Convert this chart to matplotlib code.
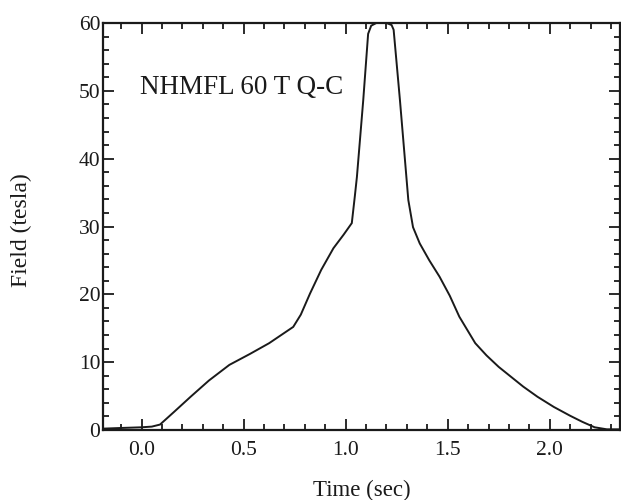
import matplotlib
matplotlib.use("Agg")
import matplotlib.pyplot as plt
import matplotlib.ticker as mticker

# Pulso de campo do magneto 60 T
time_s = [-0.19, -0.10, 0.00, 0.05, 0.09, 0.16, 0.24, 0.33, 0.43, 0.53, 0.625,
          0.743, 0.78, 0.825, 0.88, 0.94, 0.99, 1.03, 1.045, 1.055, 1.086, 1.11,
          1.125, 1.15, 1.20, 1.225, 1.235, 1.266, 1.307, 1.33, 1.363, 1.41,
          1.46, 1.51, 1.557, 1.635, 1.69, 1.75, 1.87, 1.94, 2.02, 2.10, 2.16,
          2.22, 2.28, 2.35]
field_t = [0.2, 0.3, 0.4, 0.5, 0.8, 2.7, 4.9, 7.3, 9.6, 11.2, 12.8,
           15.2, 17.0, 20.1, 23.6, 26.8, 28.8, 30.5, 34.5, 37.3, 48.6, 58.4,
           59.6, 60.0, 60.0, 59.7, 59.0, 48.6, 33.9, 29.9, 27.5, 25.0,
           22.6, 19.8, 16.7, 12.8, 11.0, 9.3, 6.4, 4.9, 3.4, 2.1, 1.2,
           0.4, 0.1, 0.1]

x_ticks = [0.0, 0.5, 1.0, 1.5, 2.0]
y_ticks = [0, 10, 20, 30, 40, 50, 60]

plt.rcParams['font.family'] = ['Liberation Serif', 'DejaVu Serif']

fig = plt.figure(figsize=(6.21, 5.0), dpi=100)
ax = fig.add_axes([0.1663, 0.14, 0.8313, 0.814])

ax.plot(time_s, field_t, color='#1a1a1a', lw=1.4, solid_joinstyle='miter')

ax.set_xlim(-0.188, 2.342)
ax.set_ylim(0, 60)
ax.set_xticks(x_ticks)
ax.set_xticklabels([f'{v:.1f}' for v in x_ticks])
ax.set_yticks(y_ticks)
ax.xaxis.set_minor_locator(mticker.MultipleLocator(0.1))
ax.yaxis.set_minor_locator(mticker.MultipleLocator(2))

ax.tick_params(which='both', direction='in', top=True, right=True,
               color='#1a1a1a', width=1.3)
ax.tick_params(which='major', length=8, labelsize=15.5, labelcolor='#1a1a1a')
ax.tick_params(axis='x', which='major', pad=8)
ax.tick_params(axis='y', which='major', pad=2)
ax.tick_params(which='minor', length=4)
for s in ax.spines.values():
    s.set_linewidth(1.6)
    s.set_color('#1a1a1a')

ax.set_xlabel('Time (sec)', fontsize=16.5, color='#1a1a1a', labelpad=14)
ax.set_ylabel('Field (tesla)', fontsize=17, color='#1a1a1a', va='center')
ax.yaxis.set_label_coords(-0.158, 0.49)

ax.text(-0.008, 49.6, 'NHMFL 60 T Q-C', fontsize=19.5, color='#1a1a1a',
        ha='left', va='baseline')

fig.savefig('out.png', dpi=100)
